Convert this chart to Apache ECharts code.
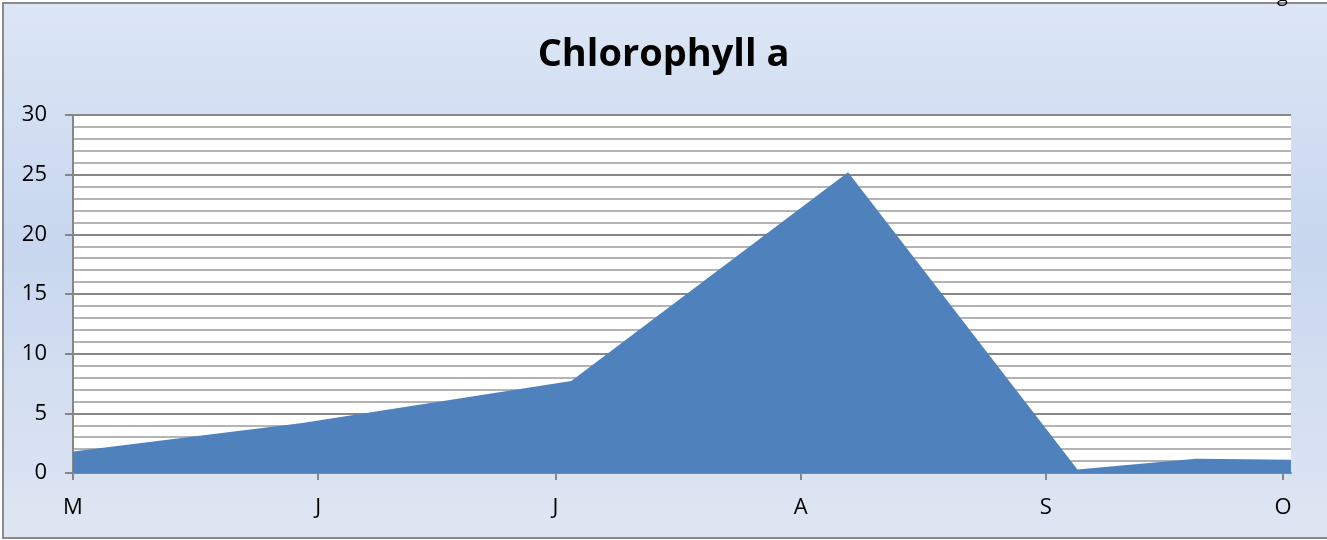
<!DOCTYPE html>
<html>
<head>
<meta charset="utf-8">
<script src="https://cdn.jsdelivr.net/npm/echarts@6/dist/echarts.min.js"></script>
<style>
  html, body { margin: 0; padding: 0; background: #ffffff; overflow: hidden; }
  #chart { width: 1327px; height: 540px; }
</style>
</head>
<body>
<div id="chart"></div>
<script>
// ---- data ----
const sampleDates = ['2010-05-01', '2010-05-30', '2010-07-03', '2010-08-07', '2010-09-05', '2010-09-20', '2010-10-02'];
const chlorophyll = [1.8, 4.2, 7.7, 25.2, 0.3, 1.2, 1.1];
const monthTicks = ['2010-05-01', '2010-06-01', '2010-07-01', '2010-08-01', '2010-09-01', '2010-10-01'];
const monthLabels = ['M', 'J', 'J', 'A', 'S', 'O'];
const axisStart = '2010-05-01';
const axisEnd = '2010-10-02';
const titleText = 'Chlorophyll a';

// day offset from the axis start (UTC arithmetic, avoids DST issues)
function dayOf(s) {
  const p = s.split('-').map(Number);
  const q = axisStart.split('-').map(Number);
  return Math.round((Date.UTC(p[0], p[1] - 1, p[2]) - Date.UTC(q[0], q[1] - 1, q[2])) / 86400000);
}
const tickDays = monthTicks.map(dayOf);
const seriesData = sampleDates.map((s, i) => [dayOf(s), chlorophyll[i]]);

const chart = echarts.init(document.getElementById('chart'), null, { renderer: 'canvas' });
const font = '"Open Sans", "Liberation Sans", sans-serif';

chart.setOption({
  animation: false,
  graphic: [
    {
      type: 'rect',
      z: -10,
      silent: true,
      shape: { x: 3, y: 3, width: 1400, height: 535 },
      style: {
        fill: new echarts.graphic.LinearGradient(0, 0, 0, 1, [
          { offset: 0, color: '#dce6f5' },
          { offset: 0.45, color: '#c8d7ef' },
          { offset: 1, color: '#dfe6f3' }
        ]),
        stroke: '#8a8a8a',
        lineWidth: 2
      }
    },
    {
      type: 'text',
      z: 5,
      left: 1277,
      top: -15,
      style: { text: 'g', fontSize: 20, fontFamily: font, fill: '#000' }
    }
  ],
  title: {
    text: titleText,
    left: 'center',
    top: 31,
    textStyle: { fontFamily: font, fontWeight: 'bold', fontSize: 38, color: '#000' }
  },
  grid: {
    left: 73, right: 36, top: 115, bottom: 67,
    show: true, backgroundColor: '#ffffff', borderWidth: 0
  },
  xAxis: {
    type: 'value',
    min: dayOf(axisStart),
    max: dayOf(axisEnd),
    axisLine: { show: true, onZero: false, lineStyle: { color: '#868686', width: 2 } },
    axisTick: { show: true, customValues: tickDays, length: 7, lineStyle: { color: '#868686', width: 2 } },
    axisLabel: {
      customValues: tickDays,
      margin: 24,
      fontFamily: font, fontSize: 22, color: '#000',
      formatter: function (v) {
        const i = tickDays.indexOf(v);
        return i >= 0 ? monthLabels[i] : '';
      }
    },
    splitLine: { show: false }
  },
  yAxis: {
    type: 'value',
    min: 0, max: 30, interval: 5,
    axisLine: { show: true, lineStyle: { color: '#868686', width: 2 } },
    axisTick: { show: true, length: 8, lineStyle: { color: '#868686', width: 2 } },
    axisLabel: { margin: 26, fontFamily: font, fontSize: 22, color: '#000' },
    splitLine: { show: true, lineStyle: { color: '#878787', width: 2 } },
    minorTick: { show: false, splitNumber: 5 },
    minorSplitLine: { show: true, lineStyle: { color: '#b4b4b4', width: 2 } }
  },
  series: [{
    type: 'line',
    data: seriesData,
    symbol: 'none',
    lineStyle: { width: 0, color: '#4f81bd' },
    areaStyle: { color: '#4f81bd', opacity: 1 },
    z: 3
  }]
});
</script>
</body>
</html>
